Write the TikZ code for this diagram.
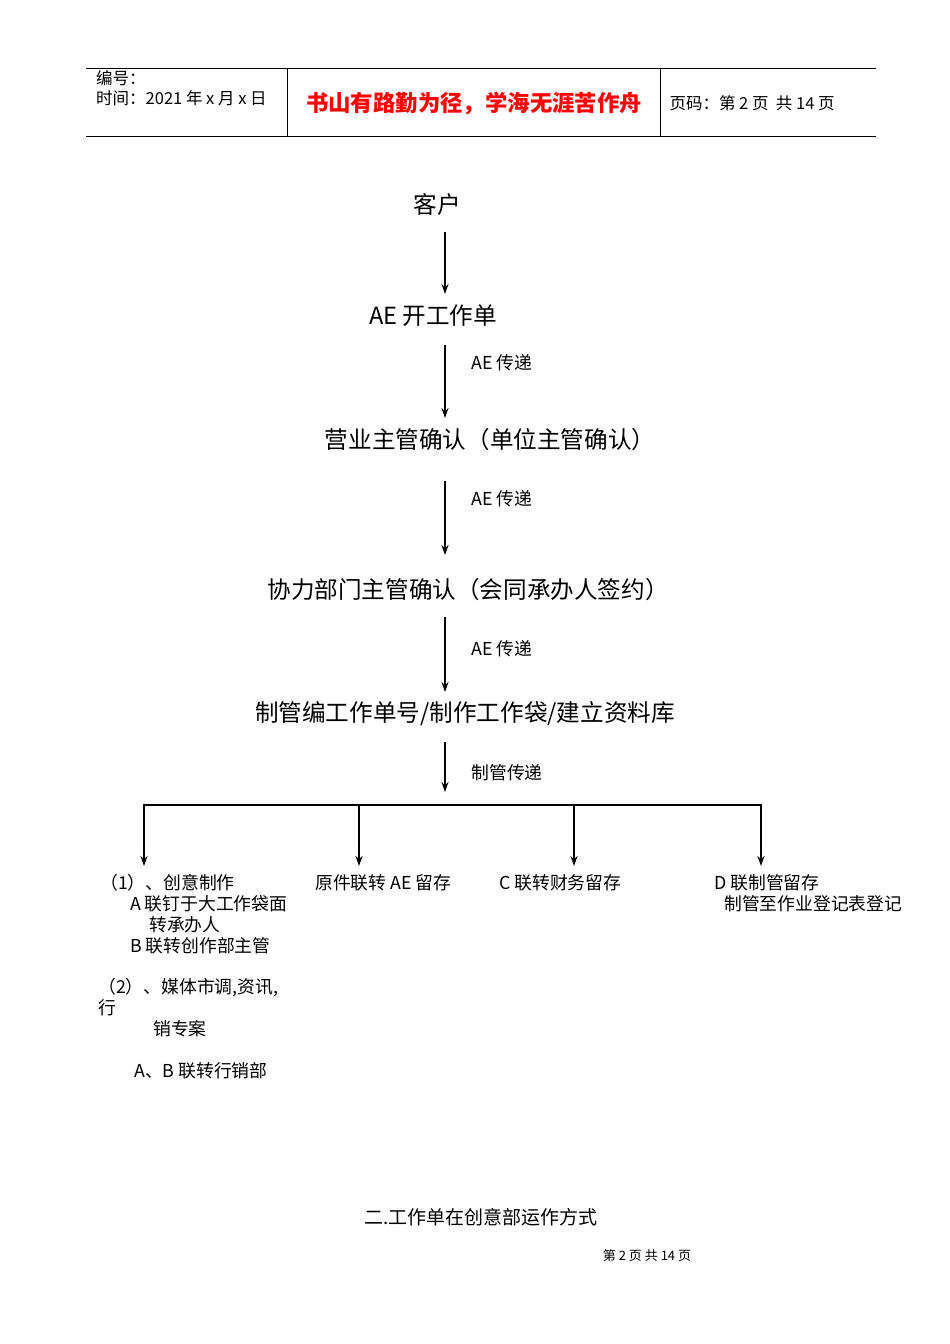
\documentclass[tikz,border=0pt]{standalone}
\usepackage{fontspec}
\setmainfont{Noto Sans CJK SC}
\usetikzlibrary{arrows.meta}
\begin{document}
\begin{tikzpicture}[x=1pt,y=-1pt,
  big/.style={font=\fontsize{23.6}{26}\selectfont},
  lab/.style={font=\fontsize{17.8}{20}\selectfont,anchor=west},
  sm/.style={font=\fontsize{17.8}{21}\selectfont,anchor=north west,align=left,inner sep=0},
  arr/.style={-{Stealth[length=10pt,width=7pt]},line width=1.6pt}]
\useasboundingbox (0,0) rectangle (950,1344);
% header
\draw[line width=0.6pt] (86,68) -- (876,68) (86,136) -- (876,136) (287,68) -- (287,136) (660,68) -- (660,136);
\node[sm,font=\fontsize{16.5}{20}\selectfont] (h1) at (96,70) {编号：\\时间：2021 年 x 月 x 日};
\node[font=\bfseries\fontsize{22.4}{25}\selectfont,text=red] (h2) at (474,104) {书山有路勤为径，学海无涯苦作舟};
\node[font=\fontsize{16.5}{19}\selectfont,anchor=west] (h3) at (666,103) {页码：第 2 页\ \ 共 14 页};
% main nodes
\node[big] (a) at (437,204) {客户};
\node[big] (b) at (433,316) {AE 开工作单};
\node[big] (c) at (490,440) {营业主管确认（单位主管确认）};
\node[big] (d) at (468,590) {协力部门主管确认（会同承办人签约）};
\node[big] (e) at (465,714) {制管编工作单号/制作工作袋/建立资料库};
\draw[arr] (445,232) -- (445,294);
\draw[arr] (445,345) -- (445,418);
\draw[arr] (445,481) -- (445,555);
\draw[arr] (445,617) -- (445,692);
\draw[arr] (445,742) -- (445,792);
\node[lab] (l1) at (468,363) {AE 传递};
\node[lab] (l2) at (468,499) {AE 传递};
\node[lab] (l3) at (468,649) {AE 传递};
\node[lab] (l4) at (468,773) {制管传递};
\draw[line width=1.6pt] (143,805) -- (762,805);
\foreach \x in {144,359,574,761} \draw[arr] (\x,804) -- (\x,866);
\node[sm] (k1) at (100,874) {（1）、创意制作\\\hspace{30pt}A 联钉于大工作袋面\\\hspace{49pt}转承办人\\\hspace{30pt}B 联转创作部主管};
\node[sm] (k2) at (98,978) {（2）、媒体市调,资讯,\\行\\\hspace{55pt}销专案};
\node[sm] (k3) at (134,1062) {A、B 联转行销部};
\node[sm] (k4) at (315,874) {原件联转 AE 留存};
\node[sm] (k5) at (499,874) {C 联转财务留存};
\node[sm] (k6) at (714,874) {D 联制管留存\\\hspace{10pt}制管至作业登记表登记};
\node[font=\fontsize{19}{22}\selectfont] (f1) at (481,1217) {二.工作单在创意部运作方式};
\node[font=\fontsize{13}{15}\selectfont] (f2) at (647,1256) {第\ 2\ 页\ 共\ 14\ 页};
\end{tikzpicture}
\end{document}
